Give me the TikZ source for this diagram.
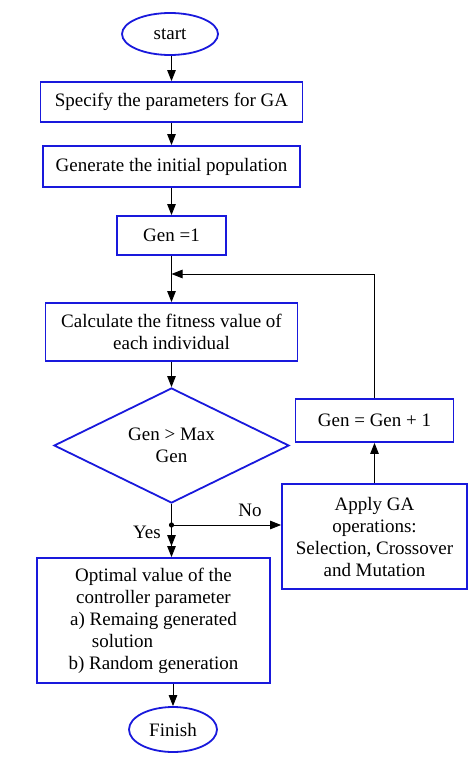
\documentclass[tikz,border=0pt]{standalone}
\usepackage{fontspec}
\setmainfont{Liberation Serif}
\usetikzlibrary{shapes.geometric,arrows.meta}
\definecolor{fcblue}{RGB}{25,25,220}
\begin{document}
\begin{tikzpicture}[x=1pt,y=-1pt,
  every node/.style={font=\fontsize{19}{22}\selectfont},
  box/.style={draw=fcblue,line width=1.8pt,rectangle,align=center,inner sep=0pt},
  term/.style={draw=fcblue,line width=1.8pt,ellipse,inner sep=0pt},
  decis/.style={draw=fcblue,line width=1.8pt,diamond,shape aspect=2,inner sep=0pt,align=center},
  arr/.style={line width=0.9pt,-{Triangle[length=11pt,width=8.5pt]}},
  darr/.style={line width=0.9pt,-{Triangle[length=11pt,width=8.5pt] Triangle[length=11pt,width=8.5pt]}},
  lbl/.style={inner sep=1pt}]
\useasboundingbox (0,0) rectangle (474,760);
\node[term,minimum width=96pt,minimum height=42pt] (start) at (170,34) {start};
\node[box,minimum width=262pt,minimum height=40pt] (spec) at (171.5,102) {Specify the parameters for GA};
\node[box,minimum width=257pt,minimum height=41pt] (gen) at (171.5,166.5) {Generate the initial population};
\node[box,minimum width=109pt,minimum height=39pt] (g1) at (171.5,235.5) {Gen =1};
\coordinate (m) at (171.5,274);
\node[box,minimum width=252pt,minimum height=58pt] (calc) at (171.5,332) {Calculate the fitness value of\\each individual};
\node[decis,minimum width=235pt,minimum height=115pt] (dec) at (171.5,445.5) {Gen > Max\\Gen};
\coordinate (dot) at (171.5,525);
\node[box,minimum width=233pt,minimum height=125pt] (opt) at (153.5,620.5) {Optimal value of the\\controller parameter\\a) Remaing generated\\solution\hbox to 62pt{}\\b) Random generation};
\node[term,minimum width=88pt,minimum height=45pt] (fin) at (173,729.5) {Finish};
\node[box,minimum width=185pt,minimum height=105pt] (app) at (374.5,536.5) {Apply GA\\operations:\\Selection, Crossover\\and Mutation};
\node[box,minimum width=158pt,minimum height=43pt] (gn) at (374.5,420.5) {Gen = Gen + 1};
\node[lbl] (no) at (250,510) {No};
\node[lbl] (yes) at (147,532) {Yes};
\draw[arr] (start.south -| spec.north) -- (spec.north);
\draw[arr] (spec) -- (gen);
\draw[arr] (gen) -- (g1);
\draw[arr] (g1) -- (calc);
\draw[arr] (calc) -- (dec);
\draw[line width=0.9pt] (dec.south) -- (dot);
\fill (dot) circle (2.6pt);
\draw[darr] (dot) -- (dot |- opt.north);
\draw[arr] (dot) -- (dot -| app.west);
\draw[arr] (app) -- (gn);
\draw[arr] (gn.north) |- (m);
\draw[arr] (fin.north |- opt.south) -- (fin.north);
\end{tikzpicture}
\end{document}
